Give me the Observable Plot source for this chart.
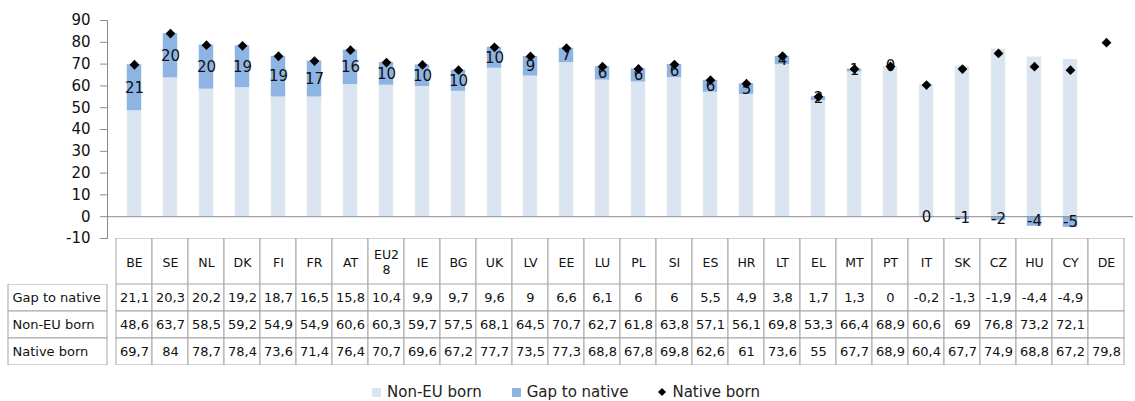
<!DOCTYPE html>
<html>
<head>
<meta charset="utf-8">
<script src="https://cdn.jsdelivr.net/npm/d3@7"></script>
<script src="https://cdn.jsdelivr.net/npm/@observablehq/plot@0.6"></script>
<style>
  body { margin: 0; background: #fff; font-family: "DejaVu Sans", sans-serif; }
  #chart svg { display: block; }
  #chart svg.top { overflow: visible; position: relative; z-index: 2; }
  .legend { display: flex; align-items: center; gap: 30px; padding-left: 372px; padding-top: 18px; height: 18px; font-size: 15px; color: #222; }
  .legend .item { display: flex; align-items: center; gap: 6px; }
  .legend .sw { width: 9px; height: 9px; display: inline-block; }
</style>
</head>
<body>
<div id="chart"></div>
<script>
const categories = ["BE","SE","NL","DK","FI","FR","AT","EU28","IE","BG","UK","LV","EE","LU","PL","SI","ES","HR","LT","EL","MT","PT","IT","SK","CZ","HU","CY","DE"];
const gapToNative = [21.1,20.3,20.2,19.2,18.7,16.5,15.8,10.4,9.9,9.7,9.6,9,6.6,6.1,6,6,5.5,4.9,3.8,1.7,1.3,0,-0.2,-1.3,-1.9,-4.4,-4.9,null];
const nonEUBorn = [48.6,63.7,58.5,59.2,54.9,54.9,60.6,60.3,59.7,57.5,68.1,64.5,70.7,62.7,61.8,63.8,57.1,56.1,69.8,53.3,66.4,68.9,60.6,69,76.8,73.2,72.1,null];
const nativeBorn = [69.7,84,78.7,78.4,73.6,71.4,76.4,70.7,69.6,67.2,77.7,73.5,77.3,68.8,67.8,69.8,62.6,61,73.6,55,67.7,68.9,60.4,67.7,74.9,68.8,67.2,79.8];
const yTicks = [-10,0,10,20,30,40,50,60,70,80,90];
const rowNames = ["Gap to native","Non-EU born","Native born"];
const seriesNames = ["Non-EU born","Gap to native"];
const seriesColors = ["#dbe5f1","#8eb4e3"];

const W = 1135, ML = 107, MR = 2;
const font = "DejaVu Sans";

// long data for stacked bars
const stacked = categories.flatMap((c, i) => [
  {cat: c, series: "Non-EU born", value: nonEUBorn[i]},
  {cat: c, series: "Gap to native", value: gapToNative[i]}
]).filter(d => d.value != null);
const natives = categories.map((c, i) => ({cat: c, value: nativeBorn[i]}));

const xScale = {type: "band", domain: categories, padding: 0};

const chart = Plot.plot({
  width: W, height: 238,
  marginTop: 20, marginBottom: 0, marginLeft: ML, marginRight: MR,
  style: {fontFamily: font, background: "none", overflow: "visible"},
  x: {...xScale, axis: null},
  y: {domain: [-10, 90]},
  color: {domain: seriesNames, range: seriesColors},
  marks: [
    Plot.barY(stacked, {x: "cat", y: "value", fill: "series", order: seriesNames, insetLeft: 10.8, insetRight: 10.8}),
    Plot.ruleY([0], {stroke: "#8c8c8c"}),
    Plot.frame({anchor: "left", stroke: "#8c8c8c"}),
    Plot.axisY({ticks: yTicks, tickFormat: d => String(d), tickSize: 7, tickPadding: 10, fontSize: 15, stroke: "#8c8c8c", fill: "#111", label: null}),
    Plot.text(stacked, Plot.stackY({
      x: "cat", y: "value", z: "series", order: seriesNames,
      text: d => d.series === "Gap to native" ? String(Math.round(d.value)) : null,
      fontSize: 15, fill: "#111"
    })),
    Plot.dot(natives, {x: "cat", y: "value", symbol: "diamond2", r: 4.4, fill: "#000", stroke: "none"})
  ]
});
chart.classList.add("top");

const header = Plot.plot({
  width: W, height: 46,
  marginTop: 0, marginBottom: 0, marginLeft: ML, marginRight: MR,
  style: {fontFamily: font, background: "none"},
  x: {...xScale, axis: null},
  marks: [
    Plot.cell(categories, {x: d => d, fill: "#fff", stroke: "#a6a6a6"}),
    Plot.text(categories, {x: d => d, text: d => d === "EU28" ? "EU2\n8" : d, fontSize: 12.5, fill: "#111", lineHeight: 1.25})
  ]
});

const rowValues = {"Gap to native": gapToNative, "Non-EU born": nonEUBorn, "Native born": nativeBorn};
const tableData = rowNames.flatMap(r => categories.map((c, i) => ({row: r, cat: c, value: rowValues[r][i]})));
const frameW = W - ML - MR;

const table = Plot.plot({
  width: W, height: 81,
  marginTop: 0, marginBottom: 0, marginLeft: ML, marginRight: MR,
  style: {fontFamily: font, background: "#fff"},
  x: {...xScale, axis: null},
  y: {type: "band", domain: rowNames, padding: 0, axis: null},
  marks: [
    Plot.cell(rowNames, {y: d => d, insetLeft: -(ML - 8), insetRight: frameW, fill: "#fff", stroke: "#a6a6a6"}),
    Plot.cell(tableData, {x: "cat", y: "row", fill: "#fff", stroke: "#a6a6a6"}),
    Plot.text(rowNames, {y: d => d, text: d => d, frameAnchor: "left", dx: -(ML - 12), textAnchor: "start", fontSize: 13, fill: "#111"}),
    Plot.text(tableData, {x: "cat", y: "row", text: d => d.value == null ? null : String(d.value).replace(".", ","), fontSize: 13, fill: "#111"})
  ]
});

const legend = document.createElement("div");
legend.className = "legend";
legend.innerHTML =
  seriesNames.map((s, i) => `<span class="item"><span class="sw" style="background:${seriesColors[i]}"></span>${s}</span>`).join("") +
  `<span class="item"><svg width="8" height="8" viewBox="0 0 8 8"><polygon points="4,0 8,4 4,8 0,4" fill="#000"/></svg>Native born</span>`;

const root = document.getElementById("chart");
root.append(chart, header, table, legend);
</script>
</body>
</html>
